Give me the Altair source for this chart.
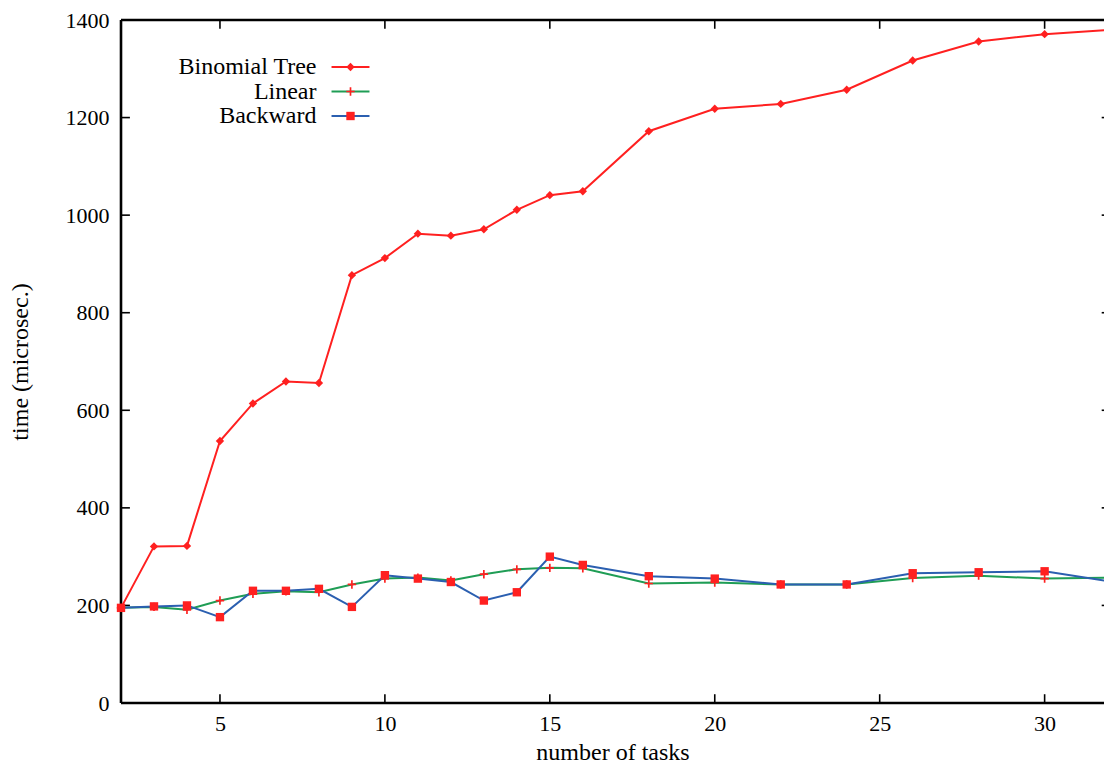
import altair as alt
import pandas as pd

# ---- data ----
tasks = [2, 3, 4, 5, 6, 7, 8, 9, 10, 11, 12, 13, 14, 15, 16, 18, 20, 22, 24, 26, 28, 30, 32]
binomial = [195, 321, 322, 537, 614, 659, 656, 877, 912, 962, 958, 971, 1011, 1041, 1049,
            1172, 1218, 1228, 1257, 1317, 1356, 1371, 1380]
linear = [195, 197, 191, 210, 224, 229, 227, 243, 255, 257, 251, 264, 274, 277, 276,
          245, 247, 243, 243, 256, 261, 255, 257]
backward = [195, 198, 200, 176, 230, 230, 234, 197, 262, 255, 248, 210, 227, 300, 283,
            260, 255, 243, 243, 266, 268, 270, 249]

series_names = ["Binomial Tree", "Linear", "Backward"]
marker_names = ["m:Binomial Tree", "m:Linear", "m:Backward"]
line_colors = ["#ff2020", "#1f9d55", "#2b5fb0"]
marker_shapes = ["diamond",
                 "M-1,-0.2H1V0.2H-1Z M-0.2,-1H0.2V1H-0.2Z",
                 "square"]
marker_color = "#ff2020"

x_tick_values = [5, 10, 15, 20, 25, 30]
y_tick_values = [0, 200, 400, 600, 800, 1000, 1200, 1400]
x_domain = [2, 32]          # full data range (the right edge is cut by the window)
x_visible = [2, 31.8]       # part of the range that fits in the picture
y_domain = [0, 1400]
tick_len_x = 0.27           # inward tick length in x units
tick_len_y = 18             # inward tick length in y units

rows = []
for name, mname, vals in zip(series_names, marker_names, [binomial, linear, backward]):
    for t, v in zip(tasks, vals):
        rows.append({"tasks": t, "time": v, "series": name, "marker": mname})
df = pd.DataFrame(rows)

xt_rows = []
for v in x_tick_values:
    xt_rows.append({"tasks": v, "time": y_domain[0], "time2": y_domain[0] + tick_len_y})
    xt_rows.append({"tasks": v, "time": y_domain[1], "time2": y_domain[1] - tick_len_y})
xt_df = pd.DataFrame(xt_rows)
yt_rows = []
for v in y_tick_values[1:-1]:
    yt_rows.append({"time": v, "tasks": x_domain[0], "tasks2": x_domain[0] + tick_len_x})
    yt_rows.append({"time": v, "tasks": x_domain[1], "tasks2": x_domain[1] - tick_len_x})
yt_df = pd.DataFrame(yt_rows)

# frame (left, bottom, top) drawn from the domains
frame_df = pd.DataFrame([
    {"tasks": x_domain[0], "tasks2": x_domain[0], "time": y_domain[0], "time2": y_domain[1]},
    {"tasks": x_domain[0], "tasks2": x_domain[1], "time": y_domain[0], "time2": y_domain[0]},
    {"tasks": x_domain[0], "tasks2": x_domain[1], "time": y_domain[1], "time2": y_domain[1]},
])

FONT = "Liberation Serif"

x = alt.X("tasks:Q", scale=alt.Scale(domain=x_visible, nice=False, zero=False),
          axis=alt.Axis(values=x_tick_values, title="number of tasks", domain=False,
                        ticks=False, grid=False, labelPadding=10, titlePadding=6))
y = alt.Y("time:Q", scale=alt.Scale(domain=y_domain, nice=False),
          axis=alt.Axis(values=y_tick_values, title="time (microsec.)", domain=False,
                        ticks=False, grid=False, labelPadding=12, titlePadding=33,
                        labelOverlap=False, format="d"))

frame = alt.Chart(frame_df).mark_rule(strokeWidth=2.6, color="black").encode(
    x=x, x2="tasks2:Q", y=y, y2="time2:Q")
xticks = alt.Chart(xt_df).mark_rule(strokeWidth=1.6, color="black").encode(
    x=x, y=y, y2="time2:Q")
yticks = alt.Chart(yt_df).mark_rule(strokeWidth=1.6, color="black").encode(
    x=x, x2="tasks2:Q", y=y)

lines = alt.Chart(df).mark_line(strokeWidth=2).encode(
    x=x, y=y,
    color=alt.Color("series:N", scale=alt.Scale(domain=series_names, range=line_colors),
                    legend=alt.Legend(title=None, orient="none", legendX=217.5, legendY=35,
                                      symbolType="M-3,0H3", symbolSize=160,
                                      symbolStrokeWidth=2, labelAlign="right",
                                      labelOffset={"expr": "-46"}, labelFontSize=24,
                                      labelFont=FONT, labelColor="black", rowPadding=0.5,
                                      padding=0)),
)

points = alt.Chart(df).mark_point(filled=True, color=marker_color, size=70,
                                  opacity=1).encode(
    x=x, y=y,
    shape=alt.Shape("marker:N", scale=alt.Scale(domain=marker_names, range=marker_shapes),
                    legend=alt.Legend(title=None, orient="none", legendX=217.5, legendY=35,
                                      symbolSize=70, symbolFillColor=marker_color,
                                      symbolStrokeWidth=0, labelExpr="''",
                                      labelAlign="right", labelOffset={"expr": "-46"},
                                      labelFontSize=24, labelFont=FONT, rowPadding=0.5,
                                      padding=0)),
)

chart = alt.layer(frame, xticks, yticks, lines, points).properties(
    width=983, height=683,
    autosize=alt.AutoSizeParams(type="none"),
    padding={"left": 113, "top": 12, "right": 0, "bottom": 60},
).configure_view(stroke="transparent").configure_axis(
    labelFont=FONT, labelFontSize=22, labelColor="black",
    titleFont=FONT, titleFontSize=24, titleFontWeight="normal", titleColor="black",
)

chart.save("out.html", embed_options={"renderer": "svg", "actions": False})
